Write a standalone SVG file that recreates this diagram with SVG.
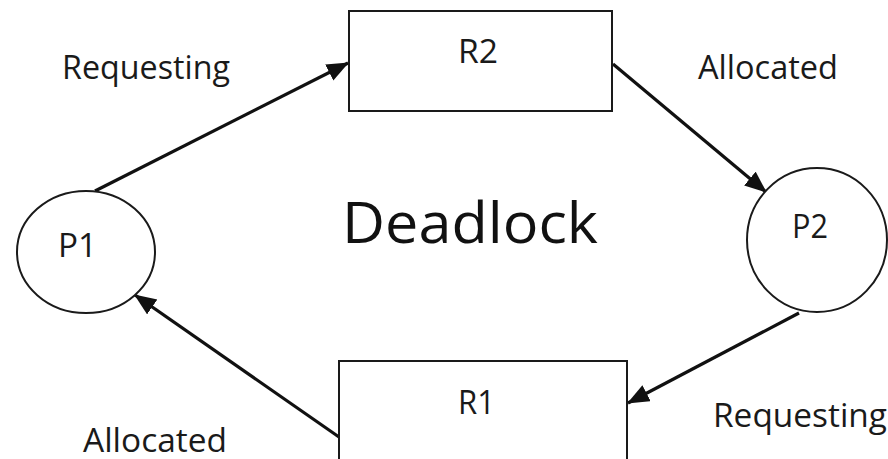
<svg xmlns="http://www.w3.org/2000/svg" width="888" height="459" viewBox="0 0 888 459">
  <style>
    .shape { fill: #ffffff; stroke: #1a1a1a; stroke-width: 2; }
    .label { font-family: "Open Sans", "Liberation Sans", sans-serif; font-size: 32px; font-weight: 500; fill: #1a1a1a; }
    .title { font-family: "Open Sans", "Liberation Sans", sans-serif; font-size: 57px; fill: #111111; }
    .edge { fill: none; stroke: #111111; stroke-width: 3.2; marker-end: url(#head); }
  </style>
  <defs>
    <marker id="head" markerUnits="userSpaceOnUse" markerWidth="24" markerHeight="20" refX="21" refY="9" orient="auto">
      <path d="M0,0 L22,9 L0,18 Z" fill="#111111"/>
    </marker>
  </defs>
  <rect width="888" height="459" fill="#ffffff"/>

  <!-- connectors of the wait-for cycle -->
  <g id="connectors">
    <line class="edge" x1="95" y1="191" x2="348" y2="63"/>
    <line class="edge" x1="613" y1="64" x2="766" y2="192"/>
    <line class="edge" x1="799" y1="313" x2="628" y2="403"/>
    <line class="edge" x1="339" y1="437" x2="135" y2="295"/>
  </g>

  <g id="R2">
    <rect class="shape" x="349" y="11" width="263" height="100"/>
    <text class="label" x="458" y="63" textLength="40" lengthAdjust="spacingAndGlyphs">R2</text>
  </g>

  <g id="P1">
    <ellipse class="shape" cx="86" cy="252" rx="69" ry="61"/>
    <text class="label" x="58" y="257" textLength="39" lengthAdjust="spacingAndGlyphs">P1</text>
  </g>

  <g id="P2">
    <ellipse class="shape" cx="817" cy="240" rx="70" ry="72"/>
    <text class="label" x="792" y="238" textLength="36" lengthAdjust="spacingAndGlyphs">P2</text>
  </g>

  <g id="R1">
    <rect class="shape" x="339" y="361" width="288" height="110"/>
    <text class="label" x="458" y="414" textLength="37" lengthAdjust="spacingAndGlyphs">R1</text>
  </g>

  <!-- edge labels -->
  <g id="labels">
    <text class="label" x="62" y="79" textLength="168" lengthAdjust="spacingAndGlyphs">Requesting</text>
    <text class="label" x="698" y="79" textLength="140" lengthAdjust="spacingAndGlyphs">Allocated</text>
    <text class="label" x="713" y="427" textLength="174" lengthAdjust="spacingAndGlyphs">Requesting</text>
    <text class="label" x="83" y="452" textLength="144" lengthAdjust="spacingAndGlyphs">Allocated</text>
  </g>

  <g id="title">
    <text class="title" x="342" y="243" textLength="256" lengthAdjust="spacingAndGlyphs">Deadlock</text>
  </g>
</svg>
